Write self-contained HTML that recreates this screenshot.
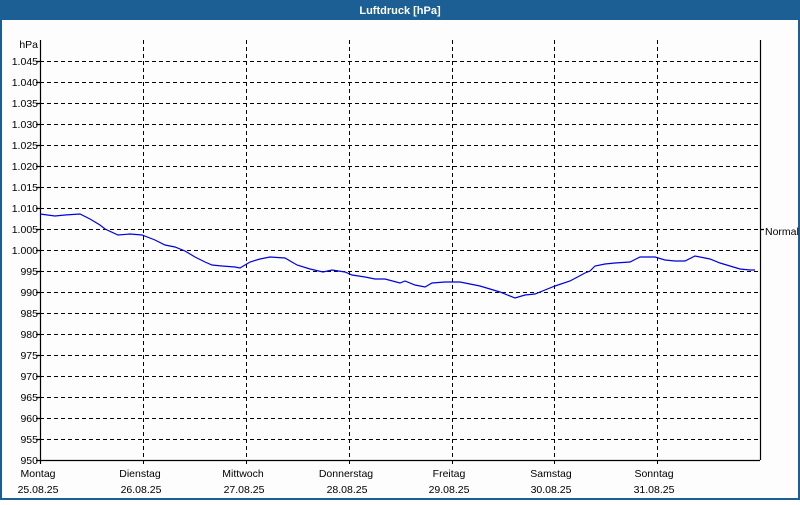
<!DOCTYPE html>
<html><head><style>
body{margin:0;width:800px;height:500px;overflow:hidden;background:#fff;font-family:"Liberation Sans",sans-serif;}
</style></head><body>
<svg width="800" height="500" xmlns="http://www.w3.org/2000/svg" font-family="Liberation Sans, sans-serif" font-size="11">
<rect x="0" y="0" width="800" height="500" fill="#1c5f94"/>
<rect x="2" y="20" width="796" height="478" fill="#fdfdfd"/>
<text x="400" y="14" fill="#fff" font-weight="bold" text-anchor="middle" font-size="11">Luftdruck [hPa]</text>
<g stroke="#000" stroke-dasharray="4,3" stroke-width="1">
<path d="M40 61.5H760M40 82.5H760M40 103.5H760M40 124.5H760M40 145.5H760M40 166.5H760M40 187.5H760M40 208.5H760M40 229.5H760M40 250.5H760M40 271.5H760M40 292.5H760M40 313.5H760M40 334.5H760M40 355.5H760M40 376.5H760M40 397.5H760M40 418.5H760M40 439.5H760"/>
<path d="M143.5 40V464M246.5 40V464M349.5 40V464M452.5 40V464M554.5 40V464M657.5 40V464"/>
</g>
<g stroke="#000" stroke-width="1.2">
<path d="M40.5 40V464M36 460.5H760M760.5 40V460M760 229.5H764"/>
<path d="M36 61.5H40M36 82.5H40M36 103.5H40M36 124.5H40M36 145.5H40M36 166.5H40M36 187.5H40M36 208.5H40M36 229.5H40M36 250.5H40M36 271.5H40M36 292.5H40M36 313.5H40M36 334.5H40M36 355.5H40M36 376.5H40M36 397.5H40M36 418.5H40M36 439.5H40"/>
</g>
<g text-anchor="end" fill="#000" font-size="10.5">
<text x="38" y="48">hPa</text>
<text x="38" y="65">1.045</text><text x="38" y="86">1.040</text><text x="38" y="107">1.035</text><text x="38" y="128">1.030</text><text x="38" y="149">1.025</text><text x="38" y="170">1.020</text><text x="38" y="191">1.015</text><text x="38" y="212">1.010</text><text x="38" y="233">1.005</text><text x="38" y="254">1.000</text><text x="38" y="275">995</text><text x="38" y="296">990</text><text x="38" y="317">985</text><text x="38" y="338">980</text><text x="38" y="359">975</text><text x="38" y="380">970</text><text x="38" y="401">965</text><text x="38" y="422">960</text><text x="38" y="443">955</text><text x="38" y="464">950</text>
</g>
<text x="765" y="235" font-size="10.5">Normal</text>
<g text-anchor="middle" font-size="10.5">
<text x="38" y="477">Montag</text><text x="38" y="493">25.08.25</text>
<text x="140" y="477">Dienstag</text><text x="141" y="493">26.08.25</text>
<text x="243" y="477">Mittwoch</text><text x="244" y="493">27.08.25</text>
<text x="346" y="477">Donnerstag</text><text x="347" y="493">28.08.25</text>
<text x="449" y="477">Freitag</text><text x="449" y="493">29.08.25</text>
<text x="551" y="477">Samstag</text><text x="551" y="493">30.08.25</text>
<text x="654" y="477">Sonntag</text><text x="654" y="493">31.08.25</text>
</g>
<polyline fill="none" stroke="#0000e0" stroke-width="1.2" points="40,214 55,216 65,215 80,214 90,219 100,225 105,229 118,235 130,234 142,235 155,240 165,245 175,247 185,251 195,257 205,262 212,265 222,266 235,267 240,268 250,262 260,259 270,257 285,258 297,265 310,269 323,272 332,270 345,272 352,275 365,277 375,279 385,279 400,283 405,281 415,285 425,287 432,283 445,282 460,282 470,284 480,286 490,289 500,292 515,298 525,295 535,294 545,290 555,286 570,281 585,273 590,271 595,266 605,264 615,263 630,262 640,257 655,257 665,260 675,261 685,261 695,256 710,259 720,263 730,266 740,269 750,270 755,270"/>
</svg>
</body></html>
